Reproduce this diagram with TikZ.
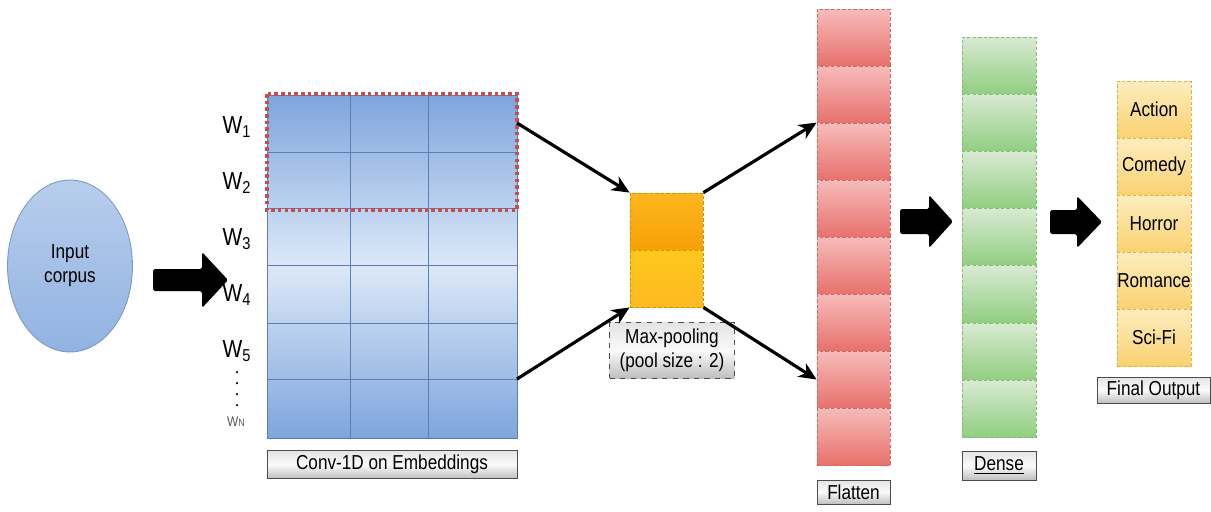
\documentclass[tikz,border=0pt]{standalone}
\usepackage{fontspec}
\setmainfont{Liberation Sans}[FakeStretch=0.85]
\usetikzlibrary{shapes.geometric,arrows.meta}
\definecolor{gridblue}{HTML}{7EA5DD}
\definecolor{gridlight}{HTML}{DCE8F8}
\definecolor{gridline}{HTML}{5A7FB0}
\definecolor{winred}{HTML}{C0504D}
\definecolor{flattop}{HTML}{F6BCBA}
\definecolor{flatbot}{HTML}{E8706C}
\definecolor{flatline}{HTML}{C86A68}
\definecolor{densetop}{HTML}{D8EAD2}
\definecolor{densebot}{HTML}{90CE80}
\definecolor{denseline}{HTML}{86BC78}
\definecolor{outtop}{HTML}{FDEDBE}
\definecolor{outbot}{HTML}{FAD170}
\definecolor{outline}{HTML}{E2B24A}
\definecolor{pooltop}{HTML}{FDBA22}
\definecolor{poolbot}{HTML}{F7A006}
\definecolor{poolline}{HTML}{D98E00}

\begin{document}
\begin{tikzpicture}[x=0.02cm,y=-0.02cm,
  txt/.style={font=\fontsize{11.5}{13.5}\selectfont},
  tag/.style={txt, draw=gray!60!black, line width=0.5pt, top color=gray!22, bottom color=gray!50,
    middle color=gray!4, minimum height=0.56cm, inner sep=0pt},
  flatcell/.style={draw=flatline, line width=0.5pt, dash pattern=on 2pt off 1.2pt,
    top color=flattop, bottom color=flatbot, minimum width=1.46cm, minimum height=1.14cm},
  densecell/.style={draw=denseline, line width=0.5pt, dash pattern=on 2pt off 1.2pt,
    top color=densetop, bottom color=densebot, minimum width=1.48cm, minimum height=1.144cm},
  outcell/.style={txt, draw=outline, line width=0.5pt, dash pattern=on 2pt off 1.2pt,
    top color=outtop, bottom color=outbot, minimum width=1.48cm, minimum height=1.14cm, inner sep=0pt},
  poolcell/.style={draw=poolline, line width=0.5pt, dash pattern=on 2pt off 1.2pt,
    minimum width=1.46cm, minimum height=1.14cm},
  wlabel/.style={font=\fontsize{14}{16}\selectfont},
  link/.style={line width=1.8pt, -{Stealth[length=10pt,width=9pt,inset=3pt]}},
  bigarrow/.style={fill=black, rounded corners=1pt}]
\useasboundingbox (0,0) rectangle (1211,511);

\node[ellipse, draw=gridline!80, line width=0.5pt, top color=gridblue!55, bottom color=gridblue!85,
  minimum width=2.5cm, minimum height=3.44cm, inner sep=0pt, txt, align=center] (input) at (70,266) {Input\\corpus};
\fill[bigarrow] (153,269) -- (202,269) -- (202,252) -- (228,280) -- (202,308) -- (202,291) -- (153,291) -- cycle;

\node[draw=gridline, line width=0.5pt, top color=gridblue, bottom color=gridblue, middle color=gridlight,
  minimum width=5cm, minimum height=6.86cm, inner sep=0pt] (conv) at (392,266.5) {};
\foreach \x in {350,428} \draw[gridline, line width=0.5pt] (\x,95) -- (\x,438);
\foreach \y in {152,208,265,323,379} \draw[gridline, line width=0.5pt] (267,\y) -- (517,\y);
\draw[winred, line width=2.2pt, dash pattern=on 2pt off 1.8pt] (267,94) rectangle (517,210);
\coordinate (c1) at (517,123);
\coordinate (c6) at (517,379);

\node[wlabel] (w1) at (237,127) {W\textsubscript{1}};
\node[wlabel] (w2) at (237,183) {W\textsubscript{2}};
\node[wlabel] (w3) at (237,239) {W\textsubscript{3}};
\node[wlabel] (w4) at (237,295) {W\textsubscript{4}};
\node[wlabel] (w5) at (237,351) {W\textsubscript{5}};
\foreach \y in {372,383,394,405} \fill (237,\y) circle (0.025cm);
\node[font=\fontsize{8}{9}\selectfont, text=gray!70!black] (wn) at (236,422) {W{\fontsize{6}{7}\selectfont N}};
\node[tag, minimum width=5cm] (convtag) at (392,464.5) {Conv-1D on Embeddings};

\node[poolcell, top color=pooltop!90!poolbot, bottom color=poolbot] (pool1) at (666.5,221.5) {};
\node[poolcell, top color=pooltop!80!yellow, bottom color=pooltop] (pool2) at (666.5,278.5) {};
\node[tag, dashed, minimum width=2.5cm, minimum height=1.12cm, align=center] (pooltag) at (672,350) {Max-pooling\\(pool size : 2)};

\foreach \i in {1,...,8} \node[flatcell] (flat\i) at (853.5,{37.5+57*(\i-1)}) {};
\node[tag, minimum width=1.46cm, minimum height=0.48cm] (flattag) at (853.5,492) {Flatten};
\fill[bigarrow] (900,209) -- (929,209) -- (929,195) -- (953,221.5) -- (929,248) -- (929,234) -- (900,234) -- cycle;

\foreach \i in {1,...,7} \node[densecell] (dense\i) at (999,{65.6+57.2*(\i-1)}) {};
\node[tag, minimum width=1.48cm, minimum height=0.58cm] (densetag) at (999,465.5) {\underline{Dense}};
\fill[bigarrow] (1050,210) -- (1077,210) -- (1077,196) -- (1102,222) -- (1077,248) -- (1077,234) -- (1050,234) -- cycle;

\foreach \i/\t in {1/Action,2/Comedy,3/Horror,4/Romance,5/Sci-Fi}
  \node[outcell] (out\i) at (1154,{109.5+57*(\i-1)}) {\t};
\node[tag, minimum width=2.26cm, minimum height=0.52cm] (outtag) at (1153.5,390) {Final Output};

\draw[link] (c1) -- (pool1.north west);
\draw[link] (c6) -- (pool2.south west);
\draw[link] (pool1.north east) -- (flat3.north west);
\draw[link] (pool2.south east) -- (flat7.west);
\end{tikzpicture}
\end{document}
